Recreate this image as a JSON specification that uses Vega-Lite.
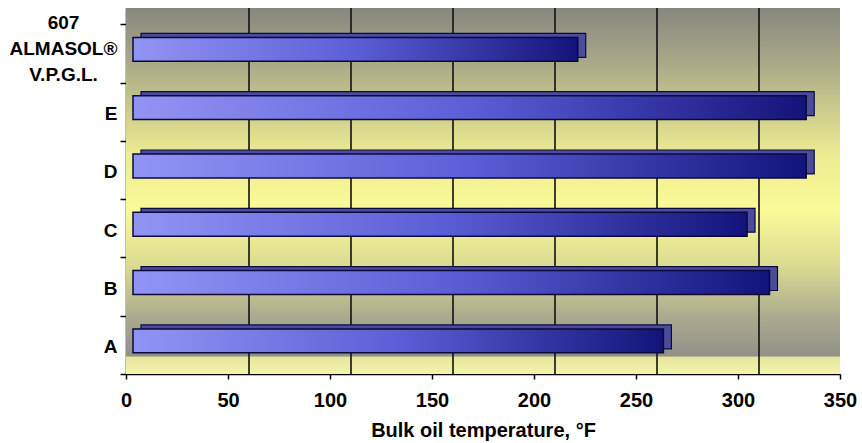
{
  "$schema": "https://vega.github.io/schema/vega-lite/v6.json",
  "width": 714,
  "height": 366,
  "autosize": {"type": "none"},
  "padding": {"left": 126, "top": 8, "right": 22, "bottom": 69},
  "background": "white",
  "config": {
    "view": {"stroke": null},
    "font": "Liberation Sans, Arial, sans-serif"
  },
  "data": {
    "values": [
      {"product": "607|ALMASOL®|V.P.G.L.", "temp": 218},
      {"product": "E", "temp": 330},
      {"product": "D", "temp": 330},
      {"product": "C", "temp": 301},
      {"product": "B", "temp": 312},
      {"product": "A", "temp": 260}
    ]
  },
  "layer": [
    {
      "data": {"values": [{"from": 0, "to": 350}]},
      "mark": {
        "type": "rect",
        "fill": {
          "gradient": "linear", "x1": 0, "y1": 0, "x2": 0, "y2": 1,
          "stops": [
            {"offset": 0, "color": "#87877f"},
            {"offset": 0.15, "color": "#a9a988"},
            {"offset": 0.4, "color": "#ecec92"},
            {"offset": 0.55, "color": "#fafa98"},
            {"offset": 0.7, "color": "#dcdc92"},
            {"offset": 0.85, "color": "#a9a98f"},
            {"offset": 0.95, "color": "#919189"},
            {"offset": 0.955, "color": "#e6e6a0"},
            {"offset": 1, "color": "#f4f4aa"}
          ]
        }
      },
      "encoding": {
        "x": {"field": "from", "type": "quantitative", "scale": {"domain": [0, 350], "nice": false}},
        "x2": {"field": "to"}
      }
    },
    {
      "data": {"values": [{"g": 50}, {"g": 100}, {"g": 150}, {"g": 200}, {"g": 250}, {"g": 300}]},
      "mark": {"type": "rule", "color": "#111111", "strokeWidth": 1.6, "xOffset": 21},
      "encoding": {
        "x": {"field": "g", "type": "quantitative"}
      }
    },
    {
      "mark": {
        "type": "bar",
        "height": {"band": 0.41},
        "fill": "#4c4c9c",
        "stroke": "#0a0a40",
        "strokeWidth": 1.2,
        "xOffset": 15, "x2Offset": 15,
        "yOffset": -8, "y2Offset": -8
      },
      "encoding": {
        "y": {"field": "product", "type": "nominal", "sort": null},
        "x": {"field": "temp", "type": "quantitative"}
      }
    },
    {
      "mark": {
        "type": "bar",
        "height": {"band": 0.41},
        "fill": {
          "gradient": "linear", "x1": 0, "y1": 0, "x2": 1, "y2": 0,
          "stops": [
            {"offset": 0, "color": "#9294f4"},
            {"offset": 0.5, "color": "#5c5ed6"},
            {"offset": 1, "color": "#13147a"}
          ]
        },
        "stroke": "#0a0a3a",
        "strokeWidth": 1.5,
        "xOffset": 7, "x2Offset": 7,
        "yOffset": -4, "y2Offset": -4
      },
      "encoding": {
        "y": {
          "field": "product", "type": "nominal", "sort": null,
          "scale": {"paddingInner": 0, "paddingOuter": 0.139, "align": 1},
          "axis": {
            "title": null,
            "domainColor": "#000000", "domainWidth": 1.5,
            "tickBand": "extent", "tickColor": "#000000", "tickSize": 6, "tickWidth": 1.5,
            "labelFontSize": 19, "labelFontWeight": "bold", "labelColor": "#000000",
            "labelLineHeight": 26,
            "labelPadding": {"condition": {"test": "datum.value === '607|ALMASOL®|V.P.G.L.'", "value": 57}, "value": 3},
            "labelAlign": {"condition": {"test": "datum.value === '607|ALMASOL®|V.P.G.L.'", "value": "center"}, "value": "right"},
            "labelOffset": {"condition": {"test": "datum.value === '607|ALMASOL®|V.P.G.L.'", "value": -31}, "value": 2},
            "labelExpr": "split(datum.label, '|')"
          }
        },
        "x": {
          "field": "temp", "type": "quantitative",
          "scale": {"domain": [0, 350], "nice": false},
          "axis": {
            "title": "Bulk oil temperature, °F",
            "values": [0, 50, 100, 150, 200, 250, 300, 350],
            "grid": false,
            "domainColor": "#000000", "domainWidth": 1.5,
            "tickColor": "#000000", "tickSize": 5, "tickWidth": 1.5,
            "labelFontSize": 20, "labelFontWeight": "bold", "labelColor": "#000000",
            "labelPadding": 11, "labelFlush": false,
            "titleFontSize": 20, "titleFontWeight": "bold", "titleColor": "#000000",
            "titlePadding": 10
          }
        }
      }
    }
  ]
}
